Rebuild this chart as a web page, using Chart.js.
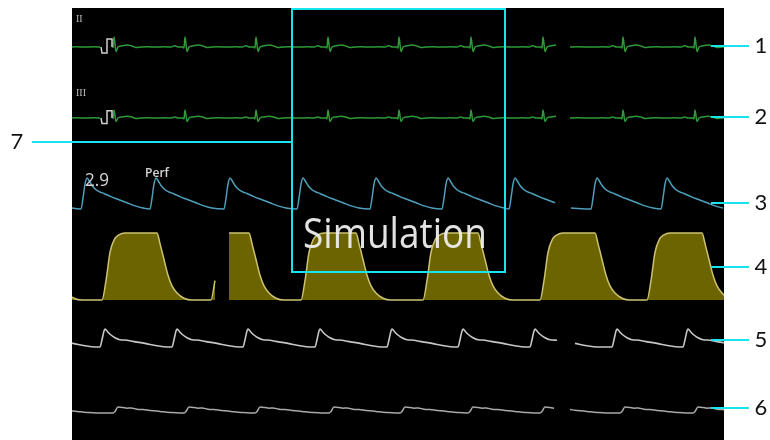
<!DOCTYPE html>
<html>
<head>
<meta charset="utf-8">
<script src="https://cdn.jsdelivr.net/npm/chart.js@4.4.1/dist/chart.umd.min.js"></script>
<style>
  html, body { margin: 0; padding: 0; background: #fff; }
  #monitor { display: block; }
</style>
</head>
<body>
<canvas id="monitor" width="770" height="440"></canvas>
<script>
// all times in seconds along the sweep (0 = left edge of the wave area)

// ECG leads II and III, mV, one beat around the R wave
const ecgShapeDt = [-0.30, -0.20, -0.14, -0.10, -0.07, -0.02, -0.01, 0, 0.02, 0.04, 0.08, 0.13, 0.18, 0.22, 0.27, 0.34];
const ecgShapeII = [0, 0.02, 0, 0.12, 0, 0, -0.1, 1.0, -0.45, 0, 0.12, 0.2, 0.1, -0.05, 0, 0.02];
const ecgShapeIII = [0, 0.02, 0, 0.1, 0, 0, -0.1, 0.9, -0.4, 0, 0.12, 0.2, 0.1, -0.05, 0, 0.02];
const ecgBeats = [-0.29, 0.42, 1.13, 1.84, 2.56, 3.27, 3.99, 4.71, 5.51, 6.23];
const ecgGaps = [[0.29, 0.405], [4.85, 4.95]];
const calPulseT = [0.29, 0.30, 0.35, 0.35, 0.40, 0.40];
const calPulseMv = [0, -0.6, -0.6, 0.8, 0.8, 0];

// Pleth, relative units, one pulse around the peak
const plethShapeDt = [-0.06, -0.04, -0.02, 0, 0.02, 0.05, 0.09, 0.13, 0.17, 0.24, 0.32, 0.40, 0.48, 0.56];
const plethShape = [0, 0.35, 0.8, 1.0, 0.92, 0.76, 0.62, 0.55, 0.5, 0.4, 0.3, 0.2, 0.1, 0.03];
const plethPeaks = [-0.56, 0.15, 0.84, 1.58, 2.31, 3.04, 3.76, 4.43, 5.25, 5.95];
const plethGaps = [[4.83, 4.95]];

// CO2, mmHg, one breath from the start of expiration
const co2ShapeDt = [0, 0.04, 0.08, 0.12, 0.17, 0.23, 0.27, 0.31, 0.35, 0.39, 0.43, 0.47, 0.51, 0.55, 0.58, 0.62, 0.66, 0.70, 0.75, 0.82, 0.90];
const co2Shape = [0, 11, 27, 34, 37, 38, 38, 38, 38, 38, 38, 38, 38, 38, 32, 23, 14, 8, 4, 1, 0];
const co2NewBreaths = [-0.80, 0.30, 1.39];
const co2OldBreaths = [1.22, 2.29, 3.51, 4.68, 5.75];
const co2EraseBar = [1.45, 1.56];

// ABP, mmHg, one beat around the systolic peak
const abpShapeDt = [-0.05, -0.03, -0.01, 0, 0.03, 0.06, 0.10, 0.15, 0.22, 0.28, 0.40, 0.52, 0.62];
const abpShape = [70, 88, 110, 115, 107, 100, 93, 88, 87, 84, 79, 73, 70];
const abpPeaks = [-0.39, 0.33, 1.05, 1.76, 2.48, 3.20, 3.91, 4.63, 5.45, 6.16];
const abpGaps = [[4.85, 4.96]];

// CVP, mmHg, one beat from the a-wave upstroke
const cvpShapeDt = [-0.02, 0, 0.03, 0.08, 0.12, 0.16, 0.22, 0.28, 0.35, 0.45, 0.55, 0.64];
const cvpShape = [4, 5.5, 10, 9.5, 8.8, 9, 7.8, 7.4, 6.6, 5.6, 4.6, 4];
const cvpBeats = [-0.40, 0.43, 1.14, 1.85, 2.59, 3.30, 3.98, 4.70, 5.50, 6.23];
const cvpGaps = [[4.85, 4.96]];

const sweepSeconds = 6.52;

// place the beat shape at every beat time, keep what falls inside [from, to]
function sweep(shapeDt, shapeVal, beats, from, to) {
    const pts = [];
    beats.forEach(b => {
        shapeDt.forEach((d, i) => {
            const t = +(b + d).toFixed(3);
            if (t >= from && t <= to) pts.push({ x: t, y: shapeVal[i] });
        });
    });
    return pts.sort((p, q) => p.x - q.x);
}

function withGaps(shapeDt, shapeVal, beats, gaps) {
    const edges = [-1, ...gaps.flat(), sweepSeconds + 1];
    let out = [];
    for (let i = 0; i < edges.length; i += 2) {
        if (i) out.push({ x: (edges[i - 1] + edges[i]) / 2, y: null });
        out = out.concat(sweep(shapeDt, shapeVal, beats, edges[i], edges[i + 1]));
    }
    return out;
}

const co2Data = sweep(co2ShapeDt, co2Shape, co2NewBreaths, -1, co2EraseBar[0])
    .concat([{ x: (co2EraseBar[0] + co2EraseBar[1]) / 2, y: null }])
    .concat(sweep(co2ShapeDt, co2Shape, co2OldBreaths, co2EraseBar[1], sweepSeconds + 1));

// vertical placement of each wave: value at a screen row, px per unit
const areaTop = 8, areaBottom = 440;
function band(value, row, pxPerUnit) {
    return {
        display: false,
        min: value - (areaBottom - row) / pxPerUnit,
        max: value + (row - areaTop) / pxPerUnit
    };
}

const calloutRows = [46, 117, 203, 267, 340, 408];

const monitorDecor = {
    id: 'monitorDecor',
    beforeDraw(chart) {
        const { ctx, chartArea: a } = chart;
        ctx.save();
        ctx.fillStyle = '#000';
        ctx.fillRect(a.left, a.top, a.right - a.left, a.bottom - a.top);
        ctx.fillStyle = '#bdbdbd';
        ctx.font = '10px "Liberation Serif"';
        ctx.fillText('II', 76, 22);
        ctx.fillText('III', 76, 96);
        ctx.restore();
    },
    afterDraw(chart) {
        const { ctx } = chart;
        ctx.save();
        ctx.fillStyle = '#d6d6d6';
        ctx.font = '19px "Open Sans"';
        ctx.fillText('2.9', 85, 186, 24);
        ctx.font = '600 13px "Open Sans"';
        ctx.fillText('Perf', 145, 177, 24);

        ctx.fillStyle = 'rgba(238,238,238,0.95)';
        ctx.font = '500 42px "Open Sans"';
        ctx.fillText('Simulation', 303, 248, 184);

        ctx.strokeStyle = '#18e4ee';
        ctx.lineWidth = 2;
        ctx.strokeRect(292, 9, 213, 263);
        ctx.beginPath();
        ctx.moveTo(32, 142);
        ctx.lineTo(292, 142);
        calloutRows.forEach(y => {
            ctx.moveTo(711, y);
            ctx.lineTo(749, y);
        });
        ctx.stroke();

        ctx.fillStyle = '#111';
        ctx.font = '22px Lato';
        ctx.textAlign = 'center';
        ctx.textBaseline = 'middle';
        calloutRows.forEach((y, i) => ctx.fillText(String(i + 1), 761, y));
        ctx.fillText('7', 17, 142);
        ctx.restore();
    }
};

const ctx = document.getElementById('monitor').getContext('2d');
new Chart(ctx, {
    type: 'line',
    data: {
        datasets: [
            { data: calPulseT.map((t, i) => ({ x: t, y: calPulseMv[i] })), yAxisID: 'yII', borderColor: '#cfcfcf', borderWidth: 1.5, cubicInterpolationMode: 'default', tension: 0 },
            { data: calPulseT.map((t, i) => ({ x: t, y: calPulseMv[i] })), yAxisID: 'yIII', borderColor: '#cfcfcf', borderWidth: 1.5, cubicInterpolationMode: 'default', tension: 0 },
            { data: withGaps(ecgShapeDt, ecgShapeII, ecgBeats, ecgGaps), yAxisID: 'yII', borderColor: '#2f9a37', borderWidth: 1.5 },
            { data: withGaps(ecgShapeDt, ecgShapeIII, ecgBeats, ecgGaps), yAxisID: 'yIII', borderColor: '#2f9a37', borderWidth: 1.5 },
            { data: withGaps(plethShapeDt, plethShape, plethPeaks, plethGaps), yAxisID: 'yPleth', borderColor: '#4f9fbc', borderWidth: 1.5 },
            { data: co2Data, yAxisID: 'yCo2', borderColor: '#cdc370', borderWidth: 1.5, fill: 'origin', backgroundColor: '#6b6400' },
            { data: withGaps(abpShapeDt, abpShape, abpPeaks, abpGaps), yAxisID: 'yAbp', borderColor: '#c6c6c6', borderWidth: 1.6 },
            { data: withGaps(cvpShapeDt, cvpShape, cvpBeats, cvpGaps), yAxisID: 'yCvp', borderColor: '#a9a9a9', borderWidth: 1.5 }
        ]
    },
    options: {
        responsive: false,
        animation: false,
        devicePixelRatio: 1,
        spanGaps: false,
        layout: { padding: { left: 72, right: 46, top: areaTop, bottom: 0 } },
        elements: {
            point: { radius: 0 },
            line: { cubicInterpolationMode: 'monotone' }
        },
        plugins: { legend: { display: false }, tooltip: { enabled: false } },
        scales: {
            x: { type: 'linear', display: false, min: 0, max: sweepSeconds },
            yII: band(0, 47, 10),
            yIII: band(0, 118, 9),
            yPleth: band(0, 209, 31),
            yCo2: band(0, 300, 67 / 38),
            yAbp: band(70, 347, 0.4),
            yCvp: band(4, 413, 1)
        }
    },
    plugins: [monitorDecor]
});
</script>
</body>
</html>
